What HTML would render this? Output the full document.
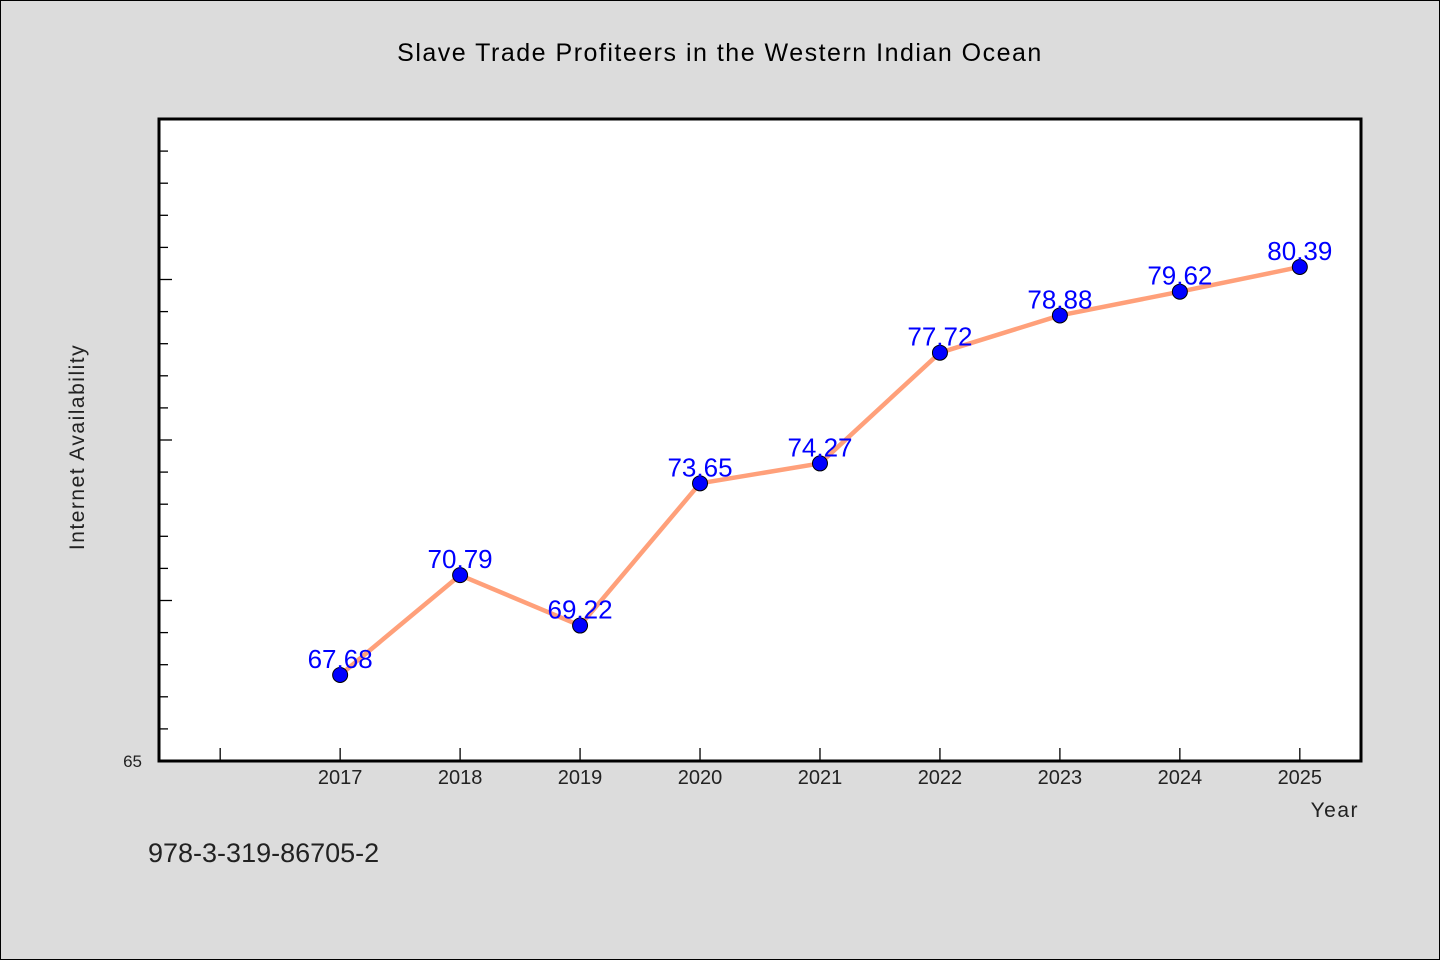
<!DOCTYPE html>
<html><head><meta charset="utf-8"><style>
html,body{margin:0;padding:0;background:#dcdcdc;}
svg{display:block;font-family:"WenQuanYi Zen Hei","Liberation Sans",sans-serif;}
</style></head><body>
<svg id="chart" width="1440" height="960" viewBox="0 0 1440 960">
<rect x="0.5" y="0.5" width="1439" height="959" fill="#dcdcdc" stroke="#000"/>
<text x="720" y="61" text-anchor="middle" font-size="25" fill="#000" letter-spacing="1.5">Slave Trade Profiteers in the Western Indian Ocean</text>
<rect x="159" y="119" width="1202" height="642" fill="#fff"/>
<g id="ticks"></g>
<g id="series"></g>
<rect x="159" y="119" width="1202" height="642" fill="none" stroke="#000" stroke-width="3"/>
<text x="142" y="767" text-anchor="end" font-size="17" fill="#222">65</text>
<text x="0" y="0" transform="translate(84,447) rotate(-90)" text-anchor="middle" font-size="21" fill="#222" letter-spacing="1.5">Internet Availability</text>
<text x="1359" y="817" text-anchor="end" font-size="21" fill="#222" letter-spacing="1.5">Year</text>
<text x="148" y="862" font-size="27" fill="#222">978-3-319-86705-2</text>
</svg>
<script>
const years = [2017,2018,2019,2020,2021,2022,2023,2024,2025];
const values = [67.68,70.79,69.22,73.65,74.27,77.72,78.88,79.62,80.39];
const valueLabels = ["67.68","70.79","69.22","73.65","74.27","77.72","78.88","79.62","80.39"];
const xTickYears = [2016,2017,2018,2019,2020,2021,2022,2023,2024,2025];
const yMin = 65, yMax = 85, xMin = 2015.49, xMax = 2025.51;
const L=159,R=1361,T=119,B=761;
const NS='http://www.w3.org/2000/svg';
const sx = v => L + (v - xMin) / (xMax - xMin) * (R - L);
const sy = v => B - (v - yMin) / (yMax - yMin) * (B - T);
function mk(tag, attrs, parent){const e=document.createElementNS(NS,tag);for(const k in attrs)e.setAttribute(k,attrs[k]);parent.appendChild(e);return e;}
const tg=document.getElementById('ticks');
for(let v=yMin+1; v<yMax; v++){
  const y=sy(v); const len = (v%5===0)?13:9;
  const t=mk('line',{x1:L,x2:L+len,y1:y,y2:y,stroke:'#000','stroke-width':1.3},tg);
  
  
}
xTickYears.forEach(yr=>{
  const x=sx(yr);
  const t=mk('line',{x1:x,x2:x,y1:B,y2:B-13,stroke:'#000','stroke-width':1.3},tg);
  
  
});
years.forEach(yr=>{
  const t=mk('text',{x:sx(yr),y:784,'text-anchor':'middle','font-size':20,fill:'#222'},tg);
  t.textContent=yr;
  
  
});
const sg=document.getElementById('series');
const pts=years.map((yr,i)=>sx(yr)+','+sy(values[i])).join(' ');
const line=mk('polyline',{points:pts,fill:'none',stroke:'#ffa07a','stroke-width':4.5,'stroke-linejoin':'round'},sg);


years.forEach((yr,i)=>{
  const c=mk('circle',{cx:sx(yr),cy:sy(values[i]),r:7.5,fill:'#0000ff',stroke:'#000','stroke-width':1},sg);
  
  
});
years.forEach((yr,i)=>{
  const t=mk('text',{x:sx(yr),y:sy(values[i])-7,'text-anchor':'middle','font-size':26,fill:'#0000ff'},sg);
  t.textContent=valueLabels[i];
  
  
});
</script>
</body></html>
